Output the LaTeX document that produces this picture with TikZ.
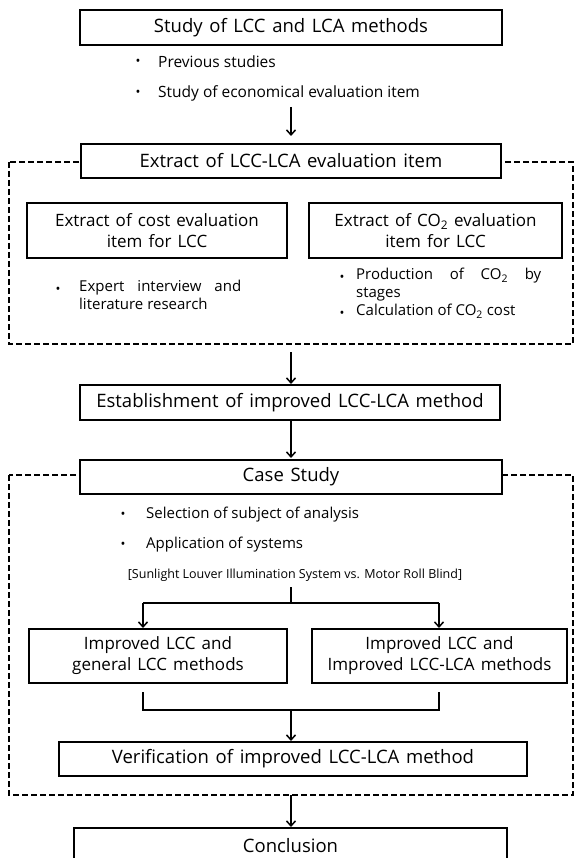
\documentclass[tikz,border=0pt]{standalone}
\usepackage{fontspec}
\setmainfont{Open Sans}
\usetikzlibrary{arrows.meta}
\newcommand\mywidesp{\spaceskip=0.36em plus 0.1em\relax}
\begin{document}
\begin{tikzpicture}[x=1pt,y=-1pt,
  box/.style={draw, line width=2pt, fill=white, inner sep=0pt, align=center,
    font=\fontsize{18.5}{22}\selectfont\mywidesp},
  subbox/.style={box, font=\fontsize{17}{21}\selectfont\mywidesp},
  dashbox/.style={draw, line width=1.8pt, dash pattern=on 6pt off 3pt},
  arr/.style={line width=1.5pt, -{Straight Barb[length=5pt,width=9pt,line width=1.5pt]}},
  link/.style={line width=1.5pt},
  btext/.style={inner sep=0pt, anchor=west, font=\fontsize{15.5}{18}\selectfont},
  bdot/.style={inner sep=0pt, font=\fontsize{13}{17}\selectfont},
  jtext/.style={inner sep=0pt, anchor=north west, align=justify, font=\fontsize{15}{18}\selectfont}
]
\useasboundingbox (0,0) rectangle (576,858);
\clip (0,0) rectangle (576,858);

% dashed groups
\draw[dashbox] (9,162) rectangle (573,344);
\draw[dashbox] (9,475) rectangle (573,795);

% box 1
\node[box, minimum width=422pt, minimum height=35pt] (b1) at (291,27.5) {Study of LCC and LCA methods};
\node[bdot] (d1) at (138,62) {\textbullet};
\node[btext] (t1) at (158,62) {Previous studies};
\node[bdot] (d2) at (138,93) {\textbullet};
\node[btext] (t2) at (158,93) {Study of economical evaluation item};
\coordinate (a1) at (291,107);

% box 2
\node[box, minimum width=420pt, minimum height=34pt] (b2) at (291,161) {Extract of LCC-LCA evaluation item};

\node[subbox, minimum width=260pt, minimum height=55pt] (sl) at (157,230.5) {Extract of cost evaluation\\item for LCC};
\node[subbox, minimum width=253pt, minimum height=55pt] (sr) at (435.5,230.5) {Extract of CO\textsubscript{2} evaluation\\item for LCC};

\node[bdot] (d3) at (58,290) {\textbullet};
\node[jtext, text width=162pt] (t3) at (79,280) {Expert interview and\linebreak literature research};
\node[bdot] (d4) at (342,278) {\textbullet};
\node[jtext, text width=185pt] (t4) at (356,268) {Production of CO\textsubscript{2} by\linebreak stages};
\node[bdot] (d5) at (342,314) {\textbullet};
\node[jtext, text width=185pt] (t5) at (356,304) {Calculation of CO\textsubscript{2} cost};

\coordinate (a2) at (291,352);
% box 3
\node[box, minimum width=420pt, minimum height=35pt] (b3) at (290,402.5) {Establishment of improved LCC-LCA method};

% box 4
\node[box, minimum width=422pt, minimum height=34pt] (b4) at (291,477) {Case Study};
\node[bdot] (d6) at (123,515) {\textbullet};
\node[btext, font=\fontsize{15}{17}\selectfont] (t6) at (146,515) {Selection of subject of analysis};
\node[bdot] (d7) at (123,545) {\textbullet};
\node[btext, font=\fontsize{15}{17}\selectfont] (t7) at (146,545) {Application of systems};
\node[inner sep=0pt, font=\fontsize{12.5}{14}\selectfont] (t8) at (295,575) {[Sunlight Louver Illumination System vs. Motor Roll Blind]};

\coordinate (sp) at (291,587);
\coordinate (spm) at (291,603);
\coordinate (xl) at (143,603);
\coordinate (xr) at (439,603);

\node[subbox, minimum width=258pt, minimum height=54pt] (il) at (158,656) {Improved LCC and\\general LCC methods};
\node[subbox, minimum width=255pt, minimum height=54pt] (ir) at (439.5,656) {Improved LCC and\\Improved LCC-LCA methods};

\coordinate (ml) at (143,692);
\coordinate (mr) at (439,692);
\coordinate (mlb) at (143,710);
\coordinate (mrb) at (439,710);
\coordinate (mm) at (291,710);

\node[box, minimum width=468pt, minimum height=34pt] (b5) at (293,759) {Verification of improved LCC-LCA method};
\coordinate (a5) at (291,795);
\node[box, minimum width=433pt, anchor=north, inner xsep=0pt, inner ysep=3pt,
  text height=21pt, text depth=30pt] (b6) at (290.5,827) {Conclusion};

% connectors
\draw[arr, shorten >=7pt] (a1) -- (b2.north -| a1);
\draw[arr] (a2) -- (b3.north -| a2);
\draw[arr, shorten >=1pt] (b3.south -| a2) -- (b4.north -| a2);
\draw[link] (sp) -- (spm);
\draw[arr] (xl) -- (il.north -| xl);
\draw[arr] (xr) -- (ir.north -| xr);
\draw[link] (xl) -- (xr);
\draw[link] (ml) -- (mlb) -- (mrb) -- (mr);
\draw[arr] (mm) -- (b5.north -| mm);
\draw[arr] (a5) -- (b6.north -| a5);
\end{tikzpicture}
\end{document}
